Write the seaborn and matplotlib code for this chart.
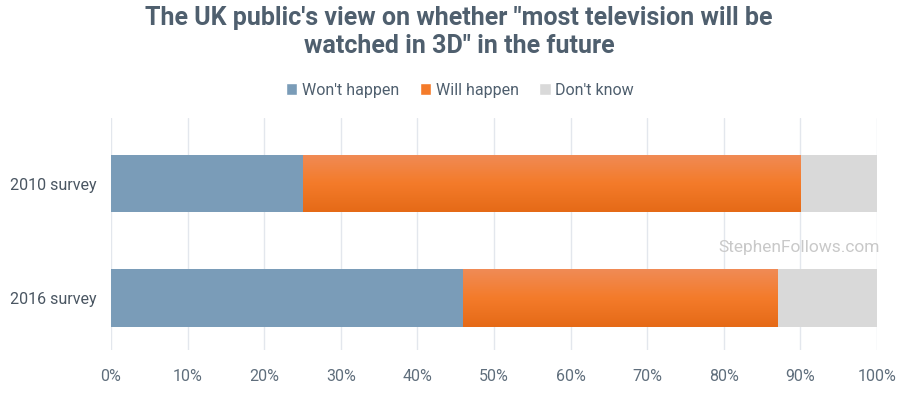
import matplotlib
matplotlib.use("Agg")
import matplotlib.pyplot as plt
import seaborn as sns
import numpy as np
import pandas as pd
from matplotlib.colors import LinearSegmentedColormap
from matplotlib.patches import Patch

surveys = ["2010 survey", "2016 survey"]
wont_happen = [25, 46]
will_happen = [65, 41]
dont_know = [10, 13]
series_names = ["Won't happen", "Will happen", "Don't know"]
x_ticks = [0, 10, 20, 30, 40, 50, 60, 70, 80, 90, 100]
x_tick_labels = [f"{t}%" for t in x_ticks]

BLUE = "#7A9CB8"
ORANGE = "#F47B2A"
GRAY = "#D9D9D9"
TEXT = "#4F5F6E"
TICK = "#5F6E7C"

sns.set_theme(style="white")
plt.rcParams["font.family"] = ["Roboto", "DejaVu Sans"]

df = pd.DataFrame({"survey": surveys, "wont": wont_happen, "will": will_happen, "dk": dont_know})
df["c1"] = df["wont"]
df["c2"] = df["wont"] + df["will"]
df["c3"] = df["c2"] + df["dk"]

fig = plt.figure(figsize=(9, 3.97), dpi=100)
ax = fig.add_axes([111/900, 1-350/397, 766/900, 232/397])

kw = dict(orient="h", width=0.5, ax=ax, saturation=1, linewidth=0)
sns.barplot(data=df, y="survey", x="c3", color=GRAY, zorder=2, **kw)
sns.barplot(data=df, y="survey", x="c2", color=ORANGE, zorder=3, **kw)
sns.barplot(data=df, y="survey", x="c1", color=BLUE, zorder=5, **kw)

# orange gradient overlay
cmap = LinearSegmentedColormap.from_list("og", ["#F08B56", "#F47B2A", "#E56A17"])
grad = np.linspace(0, 1, 256).reshape(-1, 1)
orange_patches = ax.patches[2:4]
for p in orange_patches:
    x0, y0 = p.get_x(), p.get_y()
    w, h = p.get_width(), p.get_height()
    im = ax.imshow(grad, cmap=cmap, aspect="auto", extent=[x0, x0 + w, y0 + h, y0],
                   origin="upper", zorder=4)
    im.set_clip_path(p)

ax.set_xlim(0, 100)
ax.set_ylim(1.454, -0.572)
ax.set_xticks(x_ticks)
ax.set_xticklabels(x_tick_labels)
ax.set_xlabel("")
ax.set_ylabel("")
ax.grid(axis="x", color="#E3E7ED", linewidth=1, zorder=0)
ax.set_axisbelow(True)
for s in ax.spines.values():
    s.set_visible(False)
ax.tick_params(axis="x", colors=TICK, labelsize=11.5, length=0, pad=14)
ax.tick_params(axis="y", colors="#4A5662", labelsize=11.5, length=0, pad=10)

fig.text(0.51, 0.985, "The UK public's view on whether \"most television will be\nwatched in 3D\" in the future",
         ha="center", va="top", fontsize=18, fontweight="bold", color=TEXT, linespacing=1.22)

handles = [Patch(facecolor=BLUE), Patch(facecolor=ORANGE), Patch(facecolor=GRAY)]
fig.legend(handles, series_names, loc="center", bbox_to_anchor=(0.511, 0.773), ncol=3, frameon=False,
           fontsize=11.5, labelcolor=TEXT, handlelength=0.7, handleheight=0.7, handletextpad=0.3,
           columnspacing=1.3)

fig.text(880/900, 1-247/397, "StephenFollows.com", ha="right", va="center", fontsize=12.5, color="#C9C9C9")

fig.savefig("out.png", dpi=100)
